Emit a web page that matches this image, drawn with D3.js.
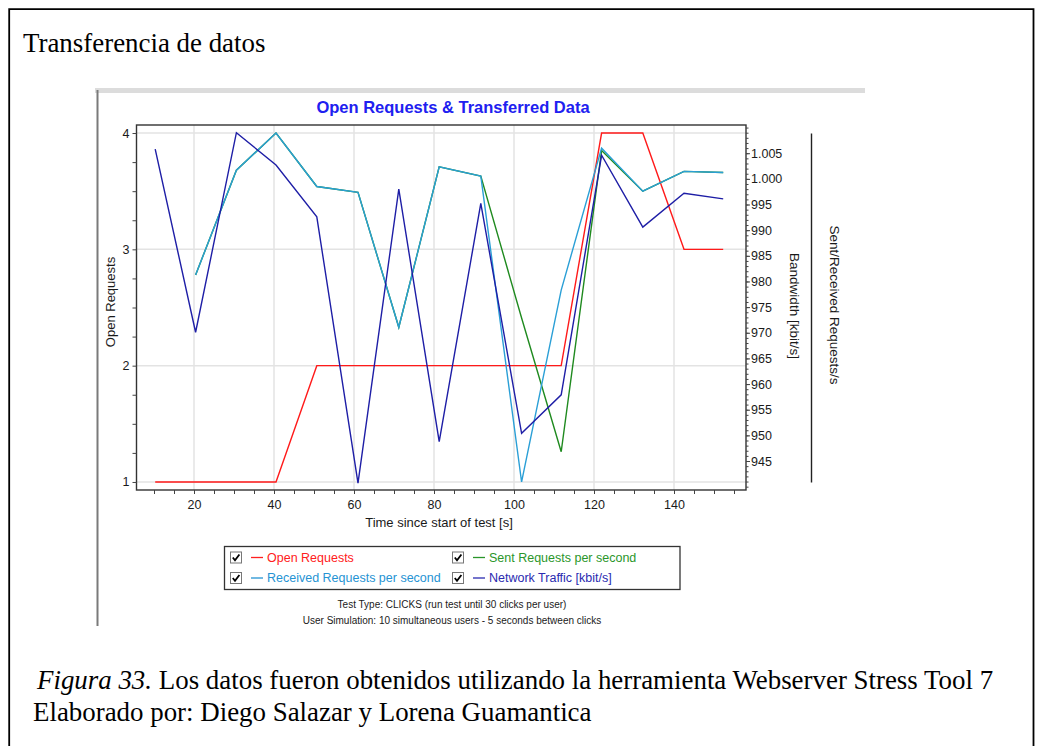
<!DOCTYPE html>
<html>
<head>
<meta charset="utf-8">
<script src="https://cdn.jsdelivr.net/npm/d3@7"></script>
<style>
  body { margin: 0; background: #fff; }
  text { font-family: "Liberation Sans", Arial, sans-serif; }
  .serif { font-family: "Liberation Serif", "Times New Roman", serif; }
</style>
</head>
<body>
<div id="chart"></div>
<script>
// time since start of test [s]
var times = [10.3, 20.4, 30.6, 40.5, 50.7, 61.0, 71.2, 81.3, 91.7, 101.9, 111.8, 121.9, 132.2, 142.5, 152.3];

// series
var openRequests     = [1, 1, 1, 1, 2, 2, 2, 2, 2, 2, 2, 4, 4, 3, 3];
var sentRequests     = [null, 2.78, 3.68, 4.0, 3.54, 3.49, 2.33, 3.71, 3.63, 2.41, 1.26, 3.85, 3.50, 3.67, 3.66];
var receivedRequests = [null, 2.78, 3.68, 4.0, 3.54, 3.49, 2.33, 3.71, 3.63, 1.0, 2.65, 3.87, 3.50, 3.67, 3.66];
var networkTraffic   = [1005.8, 970.1, 1009.0, 1002.7, 992.6, 940.7, 998.0, 948.8, 995.2, 950.4, 957.9, 1004.6, 990.6, 997.2, 996.1];

// tick labels
var xTicks = [20, 40, 60, 80, 100, 120, 140];
var openTicks = [1, 2, 3, 4];
var bandwidthTicks = [945, 950, 955, 960, 965, 970, 975, 980, 985, 990, 995, 1000, 1005];

var legendLabels = ["Open Requests", "Sent Requests per second", "Received Requests per second", "Network Traffic [kbit/s]"];
var legendColors = ["#ff2020", "#2a962a", "#2593d3", "#2a2ab0"];

var W = 1037, H = 746;
var margin = {top: 125, left: 136.5},
    width = 609.5,
    height = 365;

var root = d3.select("#chart")
  .append("svg")
    .attr("width", W)
    .attr("height", H);

// page frame (document box)
root.append("path")
    .attr("d", "M9.2," + H + " L9.2,9.2 L1033.5,9.2 L1033.5," + H)
    .attr("fill", "none")
    .attr("stroke", "#000")
    .attr("stroke-width", 1.8);

root.append("text")
    .attr("class", "serif")
    .attr("x", 23).attr("y", 52)
    .style("font-size", "26.9px")
    .text("Transferencia de datos");

var cap = root.append("text")
    .attr("class", "serif")
    .attr("x", 37).attr("y", 689)
    .style("font-size", "26.9px");
cap.append("tspan").style("font-style", "italic").text("Figura 33.");
cap.append("tspan").text(" Los datos fueron obtenidos utilizando la herramienta Webserver Stress Tool 7");

root.append("text")
    .attr("class", "serif")
    .attr("x", 33).attr("y", 721)
    .style("font-size", "26.9px")
    .text("Elaborado por: Diego Salazar y Lorena Guamantica");

// screenshot edges
root.append("rect")
    .attr("x", 95).attr("y", 88).attr("width", 770).attr("height", 5)
    .attr("fill", "#dcdcdc");
root.append("line")
    .attr("x1", 97.5).attr("x2", 97.5).attr("y1", 90).attr("y2", 626)
    .attr("stroke", "#7a7a7a").attr("stroke-width", 2);

// chart title
root.append("text")
    .attr("x", 453).attr("y", 113)
    .attr("text-anchor", "middle")
    .style("font-size", "16.5px")
    .style("font-weight", "bold")
    .style("fill", "#2020f0")
    .text("Open Requests & Transferred Data");

var svg = root.append("g")
    .attr("transform", "translate(" + margin.left + "," + margin.top + ")");

// scales
var xScale = d3.scaleLinear().domain([5.625, 158]).range([0, width]);
var yOpen = d3.scaleLinear().domain([0.931, 4.069]).range([height, 0]);
var yBand = d3.scaleLinear().domain([939.35, 1010.5]).range([height, 0]);
var yReq = d3.scaleLinear().domain([1, 4]).range([yOpen(1), yOpen(4)]);

// grid
svg.append("g").selectAll("line")
    .data(xTicks)
    .enter().append("line")
    .attr("x1", d => xScale(d)).attr("x2", d => xScale(d))
    .attr("y1", 0).attr("y2", height)
    .attr("stroke", "#e3e3e3").attr("stroke-width", 1.5);
svg.append("g").selectAll("line")
    .data(openTicks)
    .enter().append("line")
    .attr("x1", 0).attr("x2", width)
    .attr("y1", d => yOpen(d)).attr("y2", d => yOpen(d))
    .attr("stroke", "#e3e3e3").attr("stroke-width", 1.5);

// lines
var series = [
  {values: openRequests, scale: yOpen, color: "#ff1a1a"},
  {values: sentRequests, scale: yReq, color: "#1f8a1f"},
  {values: receivedRequests, scale: yReq, color: "#2a9fd6"},
  {values: networkTraffic, scale: yBand, color: "#1e1ea6"}
];
series.forEach(function(s) {
  var line = d3.line()
      .defined(d => d != null)
      .x((d, i) => xScale(times[i]))
      .y(d => s.scale(d));
  svg.append("path")
      .datum(s.values)
      .attr("d", line)
      .attr("fill", "none")
      .attr("stroke", s.color)
      .attr("stroke-width", 1.4);
});

// frame
svg.append("rect")
    .attr("x", 0).attr("y", 0).attr("width", width).attr("height", height)
    .attr("fill", "none").attr("stroke", "#333").attr("stroke-width", 1.4);

var styleAxis = function(g) {
  g.select(".domain").remove();
  g.selectAll("line").attr("stroke", "#444");
  g.selectAll("text").style("font-size", "12.5px").style("fill", "#1a1a1a")
    .style("font-family", "Liberation Sans, Arial, sans-serif");
};

// axes
svg.append("g")
    .attr("transform", "translate(0," + height + ")")
    .call(d3.axisBottom(xScale)
        .tickValues(d3.range(10, 156, 5))
        .tickSize(4)
        .tickPadding(6)
        .tickFormat(d => xTicks.indexOf(d) >= 0 ? d : ""))
    .call(styleAxis);

svg.append("g")
    .call(d3.axisLeft(yOpen)
        .tickValues(d3.range(1, 4.01, 0.25))
        .tickSize(4)
        .tickPadding(3)
        .tickFormat(d => openTicks.indexOf(d) >= 0 ? d : ""))
    .call(styleAxis);

var esFormat = d3.formatLocale({decimal: ",", thousands: ".", grouping: [3], currency: ["", ""]}).format(",");

svg.append("g")
    .attr("transform", "translate(" + width + ",0)")
    .call(d3.axisRight(yBand)
        .tickValues(d3.range(940, 1011, 1))
        .tickSize(2.5)
        .tickFormat(""))
    .call(styleAxis);
svg.append("g")
    .attr("transform", "translate(" + width + ",0)")
    .call(d3.axisRight(yBand)
        .tickValues(bandwidthTicks)
        .tickSize(4)
        .tickPadding(1)
        .tickFormat(esFormat))
    .call(styleAxis);

// sent/received axis (no labels)
svg.append("g")
    .attr("transform", "translate(" + (811 - margin.left) + ",0)")
    .call(d3.axisRight(yReq).tickValues([]).tickSizeOuter(0))
    .select(".domain").attr("stroke", "#222").attr("stroke-width", 1.4);

// axis titles
svg.append("text")
    .attr("x", 439 - margin.left).attr("y", 527 - margin.top)
    .attr("text-anchor", "middle")
    .style("font-size", "13px").style("fill", "#1a1a1a")
    .text("Time since start of test [s]");
svg.append("text")
    .attr("transform", "translate(" + (110 - margin.left) + "," + (302 - margin.top) + ") rotate(-90)")
    .attr("text-anchor", "middle").attr("dy", "0.35em")
    .style("font-size", "13px").style("fill", "#1a1a1a")
    .text("Open Requests");
svg.append("text")
    .attr("transform", "translate(" + (795 - margin.left) + "," + (306 - margin.top) + ") rotate(90)")
    .attr("text-anchor", "middle").attr("dy", "0.35em")
    .style("font-size", "13.5px").style("fill", "#1a1a1a")
    .text("Bandwidth [kbit/s]");
svg.append("text")
    .attr("transform", "translate(" + (835 - margin.left) + "," + (305 - margin.top) + ") rotate(90)")
    .attr("text-anchor", "middle").attr("dy", "0.35em")
    .style("font-size", "13.5px").style("fill", "#1a1a1a")
    .text("Sent/Received Requests/s");

// legend
var legend = root.append("g");
legend.append("rect")
    .attr("x", 224.5).attr("y", 546.5).attr("width", 455.5).attr("height", 43)
    .attr("fill", "#fff").attr("stroke", "#333").attr("stroke-width", 1.3);

var item = legend.selectAll("g.item")
    .data(legendLabels)
    .enter().append("g")
    .attr("class", "item")
    .attr("transform", (d, i) => "translate(" + (i % 2 ? 452 : 230) + "," + (i < 2 ? 557.5 : 578) + ")");
item.append("rect")
    .attr("x", 0.5).attr("y", -5.5).attr("width", 11).attr("height", 11)
    .attr("fill", "#fff").attr("stroke", "#777").attr("stroke-width", 1);
item.append("path")
    .attr("d", "M2.8,0 L5,2.8 L9.4,-3")
    .attr("fill", "none").attr("stroke", "#000").attr("stroke-width", 1.8);
item.append("line")
    .attr("x1", 21).attr("x2", 33).attr("y1", 0).attr("y2", 0)
    .attr("stroke", (d, i) => legendColors[i]).attr("stroke-width", 1.3);
item.append("text")
    .attr("x", 37).attr("dy", "0.35em")
    .style("font-size", "12.5px")
    .style("fill", (d, i) => legendColors[i])
    .text(d => d);

// test notes
root.append("text")
    .attr("x", 452).attr("y", 608)
    .attr("text-anchor", "middle")
    .style("font-size", "10px").style("fill", "#1a1a1a")
    .text("Test Type: CLICKS (run test until 30 clicks per user)");
root.append("text")
    .attr("x", 452).attr("y", 623.5)
    .attr("text-anchor", "middle")
    .style("font-size", "10px").style("fill", "#1a1a1a")
    .text("User Simulation: 10 simultaneous users - 5 seconds between clicks");
</script>
</body>
</html>
